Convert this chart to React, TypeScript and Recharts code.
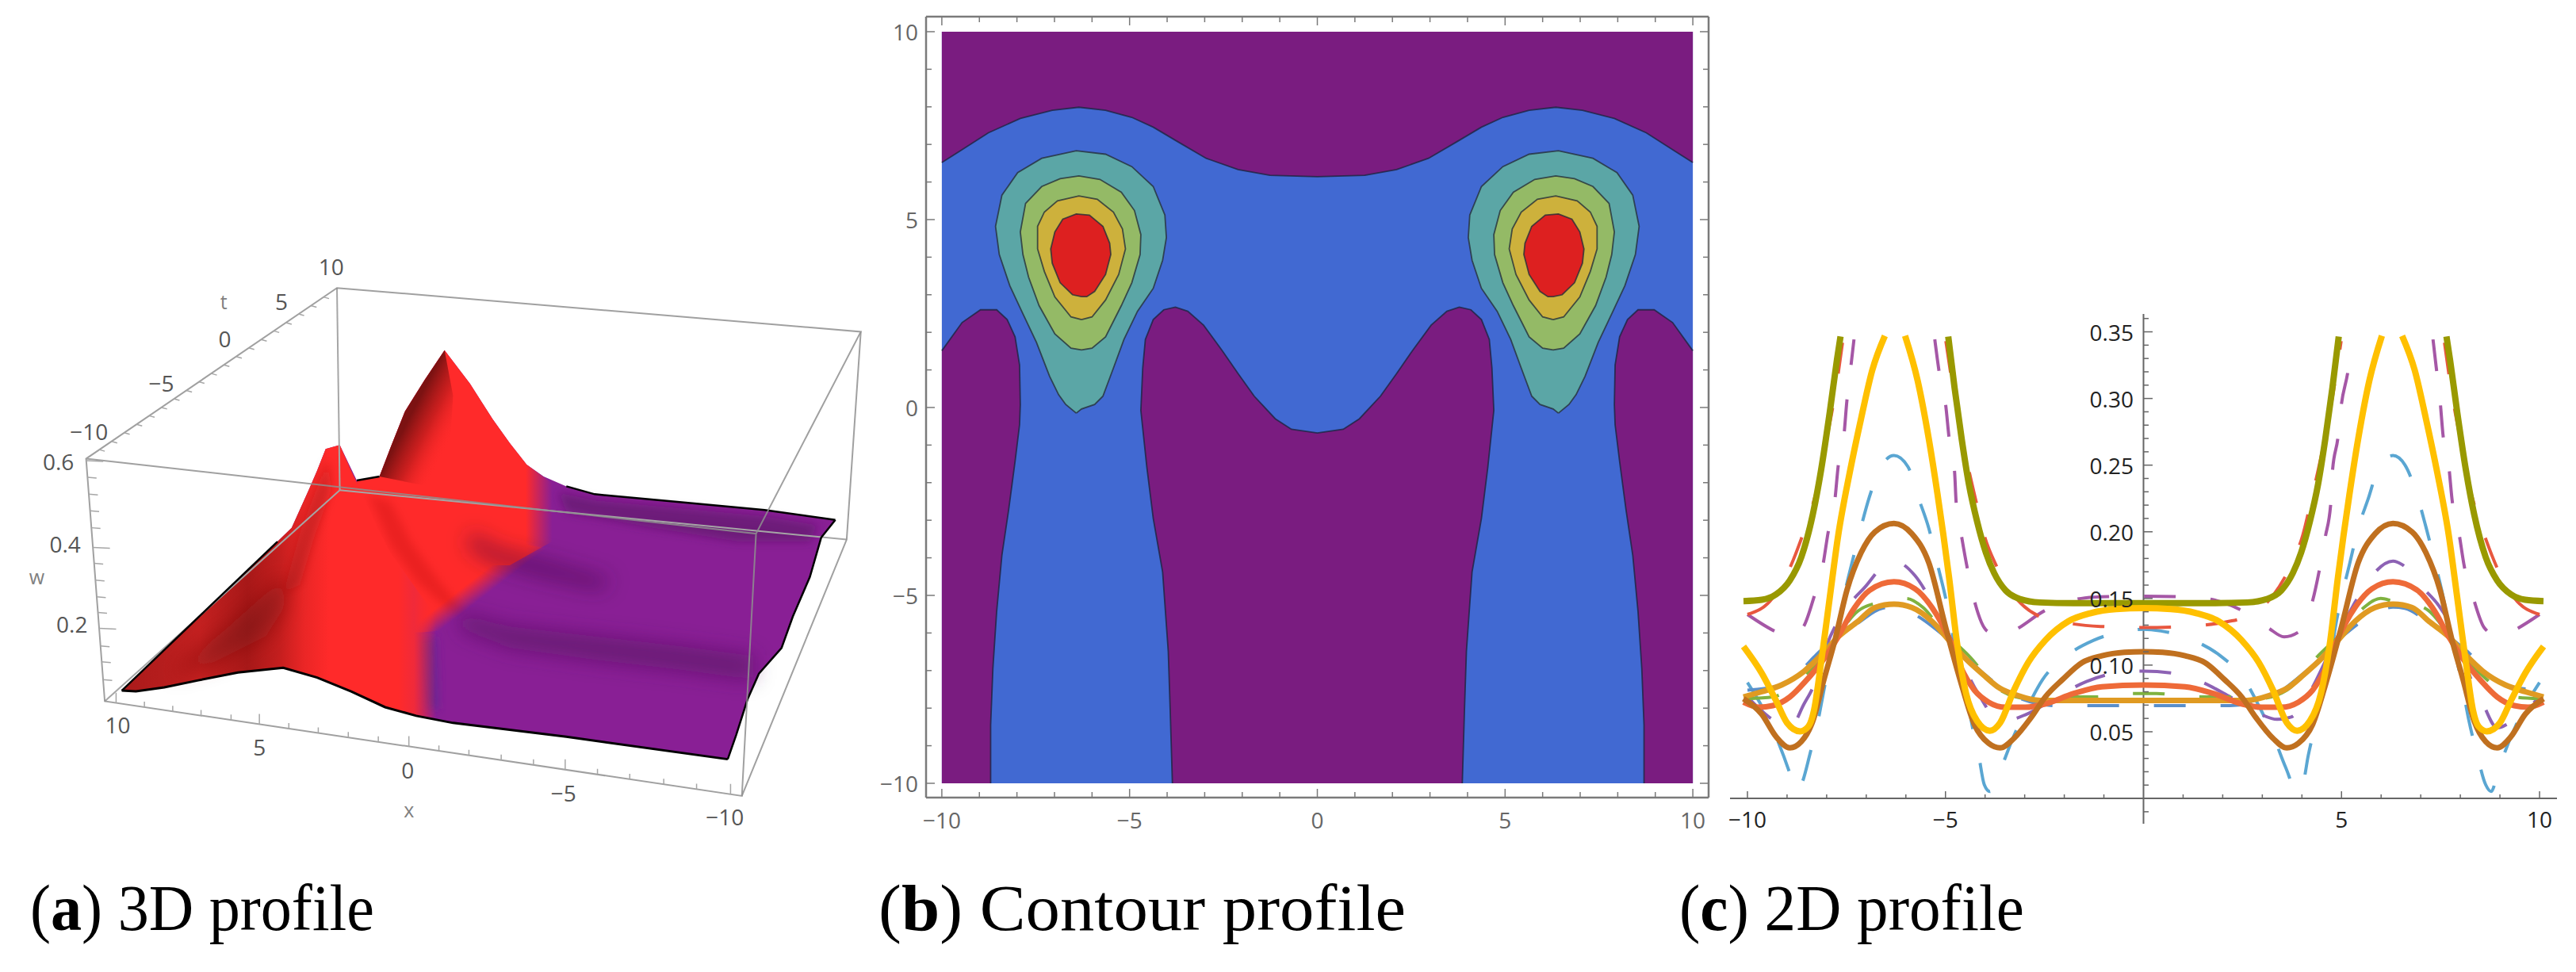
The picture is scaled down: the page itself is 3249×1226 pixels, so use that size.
import React from "react";
import { ComposedChart, XAxis, YAxis, Area, Line, Scatter, ReferenceLine } from "recharts";

type P = [number, number | null];
const rows = (p: P[]) => p.map(([x, y]) => ({ x, y }));
const mirrorX = (p: P[]): P[] => [...p].reverse().filter(([x]) => x !== 0).map(([x, y]) => [-x, y] as P);
const both = (p: P[]): P[] => [...p, ...mirrorX(p)];
const flipped = (p: P[]): P[] => p.map(([x, y]) => [-x, y] as P);

/* ---------- panel (c): 2D profile, read for x<=0, the plot is even in x ---------- */
const oliveCurve: P[] = [[-10.1,.148],[-9.64,.149],[-9.28,.153],[-8.93,.1635],[-8.64,.181],[-8.35,.213],[-8.14,.2464],[-7.92,.29],[-7.74,.329],[-7.65,.3465],[-6.3,null],[-4.93,.3465],[-4.77,.308],[-4.59,.2695],[-4.41,.236],[-4.2,.2076],[-3.98,.1844],[-3.77,.169],[-3.48,.156],[-3.12,.1496],[-2.62,.147],[-1.76,.1465],[0,.1465]];
const yellowCurve: P[] = [[-10.1,.114],[-9.64,.094],[-9.28,.0735],[-9,.0567],[-8.67,.0503],[-8.46,.054],[-8.32,.066],[-8.14,.102],[-7.92,.151],[-7.71,.197],[-7.42,.244],[-7.13,.285],[-6.85,.321],[-6.53,.347],[-6.3,null],[-6.02,.347],[-5.7,.313],[-5.42,.2695],[-5.2,.228],[-4.91,.166],[-4.7,.115],[-4.48,.0787],[-4.2,.058],[-3.88,.0508],[-3.62,.0567],[-3.27,.0812],[-2.91,.102],[-2.48,.1186],[-1.9,.1328],[-1.33,.139],[-.69,.142],[0,.1427]];
const brownCurve: P[] = [[-10.1,.0748],[-9.64,.0632],[-9.28,.0464],[-8.93,.0379],[-8.64,.0426],[-8.35,.058],[-8.07,.089],[-7.78,.12],[-7.49,.156],[-7.13,.1844],[-6.78,.2],[-6.3,.2063],[-5.85,.1986],[-5.42,.1767],[-4.99,.1277],[-4.63,.089],[-4.27,.0555],[-3.91,.0413],[-3.62,.0379],[-3.27,.0451],[-2.84,.0606],[-2.48,.0761],[-2.05,.089],[-1.55,.1019],[-1.05,.107],[-.48,.1096],[0,.1101]];
const orangeCurve: P[] = [[-10.1,.0722],[-9.71,.0684],[-9.36,.0696],[-8.93,.0761],[-8.5,.089],[-8.07,.1045],[-7.71,.1212],[-7.35,.1406],[-6.92,.156],[-6.3,.1625],[-5.77,.1573],[-5.34,.1432],[-4.91,.12],[-4.63,.0993],[-4.27,.0812],[-3.91,.0722],[-3.48,.0684],[-2.98,.0684],[-2.48,.0709],[-1.76,.0787],[-1.05,.0838],[0,.0851]];
const amberCurve: P[] = [[-10.1,.0761],[-9.64,.08],[-9.14,.0851],[-8.57,.0954],[-8.07,.1096],[-7.71,.1212],[-7.21,.1328],[-6.78,.1432],[-6.3,.1457],[-5.85,.1432],[-5.34,.1328],[-4.91,.1186],[-4.48,.1045],[-4.05,.0929],[-3.62,.0825],[-3.2,.0774],[-2.62,.0735],[-1.9,.0735],[-1.05,.0735],[0,.0735]];
const pinkDash: P[] = [[-10,.138],[-9.32,.1256],[-8.96,.1212],[-8.6,.1282],[-8.32,.151],[-8.1,.174],[-7.96,.2],[-7.79,.2244],[-7.71,.249],[-7.56,.2734],[-7.49,.298],[-7.39,.3237],[-7.31,.3443],[-6.3,null],[-5.27,.3443],[-5.16,.32],[-4.99,.294],[-4.91,.2708],[-4.77,.245],[-4.73,.2218],[-4.59,.196],[-4.45,.1728],[-4.27,.1483],[-3.95,.1256],[-3.55,.1212],[-3.16,.1277],[-2.51,.1406],[-1.48,.1504],[-.9,.1514],[0,.1517]];
const redDash: P[] = [[-10,.138],[-9.36,.1504],[-8.93,.1728],[-8.64,.1947],[-8.35,.2205],[-8.17,.2412],[-8,.2695],[-7.85,.2928],[-7.71,.3185],[-7.6,.3418],[-6.3,null],[-4.99,.343],[-4.84,.3134],[-4.66,.2824],[-4.41,.2463],[-4.23,.2231],[-4.02,.1973],[-3.73,.1754],[-3.27,.1522],[-2.69,.1375],[-1.9,.1315],[-1.08,.129],[0,.1282]];
const blueDash: P[] = [[-10,.0869],[-9.6,.067],[-9.21,.0413],[-8.96,.0214],[-8.78,.0052],[-8.64,.0103],[-8.42,.0335],[-8.21,.0593],[-8.07,.0812],[-7.89,.107],[-7.71,.1303],[-7.53,.156],[-7.35,.178],[-7.13,.2038],[-6.92,.2262],[-6.6,.2502],[-6.3,.2572],[-5.95,.2489],[-5.67,.2244],[-5.42,.2025],[-5.2,.1754],[-5.02,.1535],[-4.84,.1277],[-4.73,.1058],[-4.48,.0812],[-4.34,.0567],[-4.16,.0322],[-4.02,.0103],[-3.88,.0052],[-3.59,.0232],[-3.3,.0451],[-2.91,.0696],[-2.55,.089],[-1.94,.107],[-1.26,.1186],[-.44,.1256],[0,.1269]];
const violetDash: P[] = [[-10,.0761],[-9.28,.0575],[-8.93,.0529],[-8.57,.0709],[-8.32,.0851],[-8,.1148],[-7.49,.1432],[-7.03,.1586],[-6.53,.1754],[-6.3,.178],[-5.77,.1671],[-5.34,.147],[-4.84,.1186],[-4.2,.08],[-3.73,.0611],[-3.37,.0593],[-2.95,.0632],[-2.19,.0761],[-1.44,.0877],[-.69,.0941],[0,.0955]];
const greenDash: P[] = [[-10,.0748],[-9.36,.0761],[-8.53,.0929],[-8.07,.107],[-7.71,.1225],[-7.21,.1406],[-6.85,.1457],[-6.3,.148],[-5.99,.15],[-5.56,.143],[-5.13,.1277],[-4.41,.107],[-3.62,.0812],[-2.91,.0748],[-2.19,.0761],[-1.22,.0761],[-.33,.0787],[0,.0787]];
const steelDash: P[] = [[-10,.0812],[-9.14,.085],[-8.07,.113],[-7.21,.1316],[-6.6,.1426],[-6.3,.1435],[-5.85,.139],[-5,.121],[-4.05,.094],[-3.2,.076],[-2.19,.0696],[-1.05,.0696],[0,.0696]];
const dashedSeries: [P[], string][] = [[blueDash,"#5aa6d2"],[pinkDash,"#a557a6"],[redDash,"#e8573f"],[violetDash,"#8d62b4"],[greenDash,"#7fb23f"],[steelDash,"#5a8fca"]];
const solidSeries: [P[], string][] = [[amberCurve,"#e09a22"],[orangeCurve,"#ee6a38"],[brownCurve,"#c0701f"],[oliveCurve,"#999900"],[yellowCurve,"#ffc000"]];
const xTicksC = [-10,-9,-8,-7,-6,-5,-4,-3,-2,-1,1,2,3,4,5,6,7,8,9,10];
const yTicksC = [-.01,.01,.02,.03,.04,.05,.06,.07,.08,.09,.1,.11,.12,.13,.14,.15,.16,.17,.18,.19,.2,.21,.22,.23,.24,.25,.26,.27,.28,.29,.3,.31,.32,.33,.34,.35,.36];

/* ---------- panel (b): contour levels, read for x<=0 ---------- */
const tealDrop: P[] = [[-6.42,-.15],[-6.7,.08],[-6.89,.34],[-7.13,.83],[-7.48,1.73],[-7.84,2.49],[-8.19,3.24],[-8.47,4.07],[-8.57,4.82],[-8.4,5.65],[-7.98,6.25],[-7.34,6.63],[-6.42,6.83],[-5.64,6.74],[-4.94,6.41],[-4.37,5.88],[-4.06,5.12],[-4.02,4.52],[-4.12,3.92],[-4.37,3.17],[-4.79,2.56],[-5.15,1.81],[-5.43,1.05],[-5.71,.3],[-5.93,.08],[-6.28,-.04],[-6.42,-.15]];
const greenDrop: P[] = [[-6.28,1.53],[-6.56,1.58],[-6.99,1.96],[-7.41,2.71],[-7.69,3.47],[-7.84,4.07],[-7.91,4.67],[-7.77,5.43],[-7.34,5.88],[-6.85,6.09],[-6.35,6.16],[-5.79,6.07],[-5.22,5.73],[-4.87,5.24],[-4.7,4.6],[-4.72,4.07],[-4.94,3.32],[-5.22,2.71],[-5.64,1.88],[-6,1.58],[-6.28,1.53]];
const yellowDrop: P[] = [[-6.28,2.34],[-6.56,2.41],[-6.99,2.94],[-7.27,3.62],[-7.45,4.22],[-7.45,4.82],[-7.27,5.2],[-6.92,5.5],[-6.35,5.63],[-5.86,5.54],[-5.43,5.2],[-5.19,4.75],[-5.11,4.22],[-5.29,3.54],[-5.64,2.86],[-6,2.41],[-6.28,2.34]];
const redDrop: P[] = [[-6.28,2.95],[-6.52,3],[-6.85,3.32],[-7.06,3.84],[-7.1,4.22],[-6.99,4.67],[-6.78,5.01],[-6.42,5.15],[-6.07,5.12],[-5.71,4.82],[-5.53,4.37],[-5.5,4.07],[-5.64,3.54],[-5.93,3.09],[-6.14,2.95],[-6.28,2.95]];
const topEdge: P[] = [[-10,6.52],[-9.46,6.86],[-8.76,7.31],[-7.91,7.69],[-7.06,7.91],[-6.35,7.99],[-5.64,7.91],[-4.94,7.72],[-4.37,7.46],[-3.73,7.08],[-2.96,6.63],[-2.11,6.33],[-1.26,6.18],[0,6.14]];
const sideEdge: P[] = [[-10,1.51],[-9.46,2.26],[-8.97,2.6],[-8.54,2.6],[-8.26,2.34],[-8.05,1.88],[-7.93,1.13],[-7.91,.08],[-7.93,-.46],[-8.05,-1.44],[-8.22,-2.72],[-8.4,-3.93],[-8.54,-5.43],[-8.64,-6.94],[-8.7,-8.45],[-8.7,-10]];
const middleEdge: P[] = [[-3.86,-10],[-3.92,-8],[-3.97,-6.49],[-4.12,-4.38],[-4.37,-2.95],[-4.54,-1.59],[-4.7,-.08],[-4.65,1.05],[-4.58,1.81],[-4.37,2.34],[-4.09,2.6],[-3.78,2.67],[-3.45,2.56],[-3.03,2.19],[-2.53,1.51],[-2.11,.9],[-1.68,.3],[-1.12,-.3],[-.69,-.58],[0,-.68]];
const square: P[] = [[-10,-10],[10,-10],[10,10],[-10,10],[-10,-10]];
const ticksB = [-10,-9,-8,-7,-6,-5,-4,-3,-2,-1,0,1,2,3,4,5,6,7,8,9,10];
const dropLevels: [P[], string][] = [[tealDrop,"#5ba6a6"],[greenDrop,"#94ba66"],[yellowDrop,"#cdb13c"],[redDrop,"#dd2020"]];

/* ---------- panel (a): surface outlines in the projected plane ---------- */
const frontEdge: P[] = [[215,1148],[240,1150],[290,1140],[350,1122],[420,1102],[500,1090],[560,1115],[620,1150],[680,1190],[735,1212],[800,1230],[1000,1265],[1285,1322]];
const rightEdge: P[] = [[1285,1322],[1300,1260],[1320,1170],[1340,1105],[1380,1040],[1400,960],[1430,860],[1450,760],[1475,715]];
const backEdge: P[] = [[1475,715],[1350,690],[1200,670],[1050,650],[1000,630],[960,605]];
const ridgeEdge: P[] = [[960,605],[930,575],[900,520],[870,460],[830,370],[785,285],[750,360],[715,440],[690,530],[670,605],[630,615],[600,525],[575,535],[560,590],[545,640],[515,735],[490,770],[215,1148]];
const silhouette: P[] = [...frontEdge, ...rightEdge.slice(1), ...backEdge.slice(1), ...ridgeEdge.slice(1)];
const backPeak: P[] = [[630,615],[670,605],[690,530],[715,440],[750,360],[785,285],[830,370],[870,460],[900,520],[930,575],[975,622],[975,770],[900,830],[640,830],[630,615]];
const backShade: P[] = [[670,605],[690,530],[715,440],[750,360],[785,285],[800,400],[790,640],[670,605]];
const midRed: P[] = [[640,700],[975,790],[975,830],[830,990],[745,1000],[640,1000],[640,700]];
const frontPeak: P[] = [[215,1148],[240,1150],[290,1140],[350,1122],[420,1102],[500,1090],[560,1115],[620,1150],[680,1190],[735,1212],[770,1218],[770,960],[730,880],[690,800],[665,730],[640,650],[620,590],[600,525],[575,535],[560,590],[545,640],[515,735],[490,770],[215,1148]];
const shadeRed: P[] = [[300,1110],[400,990],[470,900],[500,850],[505,930],[470,1010],[380,1075],[300,1110]];
const shadeFlank: P[] = [[530,745],[555,650],[580,560],[585,640],[555,760],[530,880],[500,900],[530,745]];
const shadeRidge: P[] = [[650,650],[690,780],[735,870],[790,940],[820,950],[770,860],[725,770],[690,670],[650,650]];
const shadeBack: P[] = [[830,745],[880,785],[960,815],[1080,865],[1060,895],[950,860],[870,825],[825,785],[830,745]];
const shadeCrease: P[] = [[810,950],[900,985],[1050,1010],[1200,1035],[1330,1060],[1330,1120],[1200,1095],[1050,1070],[900,1040],[815,995],[810,950]];
const shadeTop: P[] = [[985,645],[1050,665],[1200,685],[1350,705],[1445,728],[1430,770],[1300,770],[1150,735],[1000,695],[985,645]];
const shadeBase: P[] = [[735,1020],[770,1010],[775,1195],[750,1195],[735,1020]];
const boxBack: P[][] = [[[595,127],[600,640]],[[185,1175],[600,640]],[[600,640],[1495,765]]];
const boxFront: P[][] = [[[152,560],[1335,750],[1520,238],[595,127],[152,560],[185,1175],[1310,1415],[1335,750]],[[1310,1415],[1495,765],[1520,238]]];
const xEdgeTicks = [205,255,305,355,408,458,510,562,615,668,722,775,828,885,942,998,1055,1112,1172,1230,1290];
const wEdgeTicks = [565,607,650,692,735,785,825,868,910,950,990,1035,1075,1120];
const tEdgeTicks = [[175,537],[197,516],[219,494],[241,473],[263,451],[285,430],[307,408],[329,387],[351,365],[373,344],[395,322],[417,301],[439,279],[461,258],[483,236],[505,215],[527,193],[549,172],[571,150]];
const labels3d = [
  { x: 208, y: 1235, t: "10" }, { x: 458, y: 1290, t: "5" }, { x: 720, y: 1348, t: "0" }, { x: 995, y: 1408, t: "\u22125" }, { x: 1280, y: 1468, t: "\u221210" },
  { x: 585, y: 72, t: "10" }, { x: 497, y: 160, t: "5" }, { x: 397, y: 255, t: "0" }, { x: 285, y: 368, t: "\u22125" }, { x: 157, y: 490, t: "\u221210" },
  { x: 103, y: 567, t: "0.6" }, { x: 115, y: 775, t: "0.4" }, { x: 127, y: 978, t: "0.2" },
];
const names3d = [{ x: 722, y: 1450, t: "x" }, { x: 395, y: 160, t: "t" }, { x: 65, y: 858, t: "w" }];

const FONT = "'Open Sans', sans-serif";
const U = 1568;
const W3 = 1120, H3 = 780;
const gx = (v: number) => (v * W3) / U;
const gy = (v: number) => (v * H3) / U;

const tickSegments = (): any[] => {
  const out: any[] = [];
  const seg = (a: number, b: number, c: number, d: number) => out.push({ x: a, y: b }, { x: c, y: d }, { x: c, y: null });
  xEdgeTicks.forEach((x, i) => {
    const y = 1175 + (x - 185) * 0.2133;
    seg(x, y, x, y - (i % 5 === 0 ? 26 : 14));
  });
  wEdgeTicks.forEach((y, i) => {
    const x = 152 + ((y - 560) * 33) / 615;
    seg(x, y, x + (i % 5 === 0 ? 30 : 16), y + 2);
  });
  tEdgeTicks.forEach(([x, y]) => seg(x, y, x + 10, y + 4));
  return out;
};

const poly = (p: P[], fill: string, key: string, extra: any = {}) => (
  <Area key={key} data={rows(p)} dataKey="y" type="linear" fill={fill} fillOpacity={1} stroke="none" dot={false} activeDot={false} isAnimationActive={false} legendType="none" {...extra} />
);
const path = (p: P[], stroke: string, w: number, key: string, extra: any = {}) => (
  <Line key={key} data={rows(p)} dataKey="y" type="linear" stroke={stroke} strokeWidth={w} dot={false} activeDot={false} isAnimationActive={false} legendType="none" {...extra} />
);

const Label3d = (color: string, size: number) => (props: any) => (
  <text x={props.cx} y={props.cy} textAnchor="middle" dominantBaseline="central" fill={color} fontFamily={FONT} fontSize={size}>
    {props.payload.t}
  </text>
);

function Panel3D() {
  return (
    <div style={{ position: "absolute", left: 0, top: 300 }}>
      <ComposedChart width={W3} height={H3} margin={{ top: 0, right: 0, bottom: 0, left: 0 }}>
        <defs>
          <filter id="soft" x="-30%" y="-40%" width="160%" height="180%"><feGaussianBlur stdDeviation="6" /></filter>
          <filter id="wide" x="-30%" y="-60%" width="160%" height="220%"><feGaussianBlur stdDeviation="13" /></filter>
          <linearGradient id="gFront" gradientUnits="userSpaceOnUse" x1={gx(215)} y1={0} x2={gx(770)} y2={0}>
            <stop offset="0" stopColor="#a81a1a" />
            <stop offset="0.25" stopColor="#c42020" />
            <stop offset="0.4" stopColor="#a81818" />
            <stop offset="0.5" stopColor="#c41e1e" />
            <stop offset="0.58" stopColor="#ea2626" />
            <stop offset="0.66" stopColor="#ff2a2a" />
            <stop offset="0.88" stopColor="#ff2a2a" />
            <stop offset="0.93" stopColor="#f02a3a" />
            <stop offset="1" stopColor="#ff2a2a" stopOpacity="0" />
          </linearGradient>
          <linearGradient id="gBack" gradientUnits="userSpaceOnUse" x1={gx(640)} y1={0} x2={gx(975)} y2={0}>
            <stop offset="0" stopColor="#ff2a2a" />
            <stop offset="0.86" stopColor="#ff2a2a" />
            <stop offset="1" stopColor="#ff2a2a" stopOpacity="0" />
          </linearGradient>
          <linearGradient id="gRidge" gradientUnits="userSpaceOnUse" x1={gx(670)} y1={gy(605)} x2={gx(670) + 53} y2={gy(605) + 27}>
            <stop offset="0" stopColor="#7c1212" />
            <stop offset="0.45" stopColor="#c01c1c" stopOpacity="0.8" />
            <stop offset="1" stopColor="#ff2a2a" stopOpacity="0" />
          </linearGradient>
          <linearGradient id="gMid" gradientUnits="userSpaceOnUse" x1={gx(850)} y1={gy(850)} x2={gx(871.5)} y2={gy(890)}>
            <stop offset="0" stopColor="#ff2a2a" />
            <stop offset="1" stopColor="#ff2a2a" stopOpacity="0" />
          </linearGradient>
        </defs>
        <XAxis dataKey="x" type="number" domain={[0, U]} hide allowDataOverflow />
        <YAxis dataKey="y" type="number" domain={[0, U]} reversed hide allowDataOverflow />
        {boxBack.map((b, i) => path(b, "#a6a6a6", 2, "bb" + i))}
        {poly(silhouette, "#891f95", "sil")}
        {poly(shadeTop, "#4a1058", "s4", { fillOpacity: 0.45, filter: "url(#soft)" })}
        {poly(shadeCrease, "#4a1058", "s3", { fillOpacity: 0.55, filter: "url(#wide)" })}
        {poly(shadeBase, "#4a2a90", "s5", { fillOpacity: 0.5, filter: "url(#soft)" })}
        {poly(midRed, "url(#gMid)", "rm")}
        {poly(backPeak, "url(#gBack)", "rb")}
        {poly(backShade, "url(#gRidge)", "rbs")}
        {poly(shadeRidge, "#a01818", "s6", { fillOpacity: 0.22, filter: "url(#soft)" })}
        {poly(shadeBack, "#3a0a40", "s2", { fillOpacity: 0.45, filter: "url(#wide)" })}
        {path([[1000,630],[1050,650],[1200,670],[1350,690],[1475,715]], "#000", 2.5, "edgeBack")}
        {path([[670,605],[630,615]], "#000", 2.5, "edgeMid")}
        {poly(frontPeak, "url(#gFront)", "rf")}
        {poly(shadeRed, "#701010", "s1", { fillOpacity: 0.5, filter: "url(#wide)" })}
        {poly(shadeFlank, "#901414", "s7", { fillOpacity: 0.35, filter: "url(#soft)" })}
        {path(frontEdge, "#000", 3, "edgeFront")}
        {path(rightEdge, "#000", 2.5, "edgeRight")}
        {path([[490,770],[215,1148]], "#000", 2.5, "edgeLeft")}
        {boxFront.map((b, i) => path(b, "#8f8f8f", 2, "bf" + i, { strokeOpacity: 0.85 }))}
        <Line data={tickSegments()} dataKey="y" type="linear" stroke="#a6a6a6" strokeWidth={1.5} dot={false} activeDot={false} isAnimationActive={false} legendType="none" />
        <Scatter data={labels3d} dataKey="y" isAnimationActive={false} legendType="none" shape={Label3d("#555", 28)} />
        <Scatter data={names3d} dataKey="y" isAnimationActive={false} legendType="none" shape={Label3d("#808080", 25)} />
      </ComposedChart>
    </div>
  );
}

const fmtMinus = (v: number) => (v < 0 ? "\u2212" + Math.abs(v) : String(v));
const INK = "#7a7a7a";
const isMajor = (v: number) => v % 5 === 0;

const TickBottom = (p: any) => (
  <g>
    <line x1={p.x} x2={p.x} y1={985 + 21} y2={985 + 21 - (isMajor(p.payload.value) ? 11 : 7)} stroke={INK} strokeWidth={1.5} />
    {isMajor(p.payload.value) && <text x={p.x} y={1034} textAnchor="middle" dominantBaseline="central" fill="#666" fontFamily={FONT} fontSize={28}>{fmtMinus(p.payload.value)}</text>}
  </g>
);
const TickTop = (p: any) => <line x1={p.x} x2={p.x} y1={21} y2={21 + (isMajor(p.payload.value) ? 11 : 7)} stroke={INK} strokeWidth={1.5} />;
const TickLeft = (p: any) => (
  <g>
    <line x1={78} x2={78 + (isMajor(p.payload.value) ? 11 : 7)} y1={p.y} y2={p.y} stroke={INK} strokeWidth={1.5} />
    {isMajor(p.payload.value) && <text x={68} y={p.y} textAnchor="end" dominantBaseline="central" fill="#666" fontFamily={FONT} fontSize={28}>{fmtMinus(p.payload.value)}</text>}
  </g>
);
const TickRight = (p: any) => <line x1={1065} x2={1065 - (isMajor(p.payload.value) ? 11 : 7)} y1={p.y} y2={p.y} stroke={INK} strokeWidth={1.5} />;

const axisLineB = { stroke: INK, strokeWidth: 2.5 };

function PanelContour() {
  const outline = "#1d2440";
  const purple = "#7a1c80";
  const top: P[] = [...both(topEdge), [10, 10], [-10, 10], [-10, 6.52]];
  const sideL: P[] = [...sideEdge, [-10, -10], [-10, 1.51]];
  const mid: P[] = [...both(middleEdge), [-3.86, -10]];
  return (
    <div style={{ position: "absolute", left: 1090, top: 0 }}>
      <ComposedChart width={1080} height={1070} margin={{ top: 20, right: 14, bottom: 63, left: 77 }}>
        {poly(square, "#4169d2", "base")}
        {poly(top, purple, "top")}
        {poly(sideL, purple, "sideL")}
        {poly(flipped(sideL), purple, "sideR")}
        {poly(mid, purple, "mid")}
        {path(both(topEdge), outline, 1.8, "topLine", { strokeOpacity: 0.8 })}
        {path(sideEdge, outline, 1.8, "sideLineL", { strokeOpacity: 0.8 })}
        {path(flipped(sideEdge), outline, 1.8, "sideLineR", { strokeOpacity: 0.8 })}
        {path(both(middleEdge), outline, 1.8, "midLine", { strokeOpacity: 0.8 })}
        {dropLevels.map(([d, c], i) => poly(d, c, "dl" + i, { stroke: "#26303a", strokeWidth: 1.8, strokeOpacity: 0.8 }))}
        {dropLevels.map(([d, c], i) => poly(flipped(d), c, "dr" + i, { stroke: "#26303a", strokeWidth: 1.8, strokeOpacity: 0.8 }))}
        <XAxis dataKey="x" type="number" domain={[-10.42, 10.42]} ticks={ticksB} interval={0} height={1} allowDataOverflow axisLine={axisLineB} tickLine={false} tick={TickBottom} />
        <XAxis xAxisId="t" orientation="top" dataKey="x" type="number" domain={[-10.42, 10.42]} ticks={ticksB} interval={0} height={1} allowDataOverflow axisLine={axisLineB} tickLine={false} tick={TickTop} />
        <YAxis dataKey="y" type="number" domain={[-10.38, 10.4]} ticks={ticksB} interval={0} width={1} allowDataOverflow axisLine={axisLineB} tickLine={false} tick={TickLeft} />
        <YAxis yAxisId="r" orientation="right" dataKey="y" type="number" domain={[-10.38, 10.4]} ticks={ticksB} interval={0} width={1} allowDataOverflow axisLine={axisLineB} tickLine={false} tick={TickRight} />
      </ComposedChart>
    </div>
  );
}

const X0C = 2703 - 2160;
const Y0C = 1007 - 380;
const TickXC = (p: any) => {
  const v = p.payload.value;
  return (
    <g>
      <line x1={p.x} x2={p.x} y1={Y0C} y2={Y0C - (isMajor(v) ? 9 : 5)} stroke="#666" strokeWidth={1.5} />
      {isMajor(v) && <text x={p.x} y={Y0C + 26} textAnchor="middle" dominantBaseline="central" fill="#222" fontFamily={FONT} fontSize={28}>{fmtMinus(v)}</text>}
    </g>
  );
};
const TickYC = (p: any) => {
  const v = Math.round(p.payload.value * 100);
  const major = v % 5 === 0;
  return (
    <g>
      <line x1={X0C} x2={X0C + (major ? 12 : 7)} y1={p.y} y2={p.y} stroke="#666" strokeWidth={1.5} />
      {major && <text x={X0C - 12} y={p.y} textAnchor="end" dominantBaseline="central" fill="#222" fontFamily={FONT} fontSize={28}>{(v / 100).toFixed(2)}</text>}
    </g>
  );
};

function Panel2D() {
  return (
    <div style={{ position: "absolute", left: 2160, top: 380 }}>
      <ComposedChart width={1089} height={700} margin={{ top: 16, right: 24, bottom: 40, left: 21 }}>
        <ReferenceLine y={0} stroke="#666" strokeWidth={2} />
        <ReferenceLine x={0} stroke="#666" strokeWidth={2} />
        {dashedSeries.map(([d, c], i) => path(both(d), c, 4, "dash" + i, { strokeDasharray: "40 44", type: "monotone" }))}
        {solidSeries.map(([d, c], i) => path(both(d), c, i >= 3 ? 8 : 7, "solid" + i, { type: "monotone" }))}
        <XAxis dataKey="x" type="number" domain={[-10.44, 10.44]} ticks={xTicksC} interval={0} height={1} allowDataOverflow axisLine={false} tickLine={false} tick={TickXC} />
        <YAxis dataKey="y" type="number" domain={[-0.019, 0.3634]} ticks={yTicksC} interval={0} width={1} allowDataOverflow axisLine={false} tickLine={false} tick={TickYC} />
      </ComposedChart>
    </div>
  );
}

const captions = [
  { x: 38, letter: "a", rest: " 3D profile", w: 434 },
  { x: 1108, letter: "b", rest: " Contour profile", w: 665 },
  { x: 2118, letter: "c", rest: " 2D profile", w: 435 },
];

export default function App() {
  return (
    <div style={{ position: "absolute", left: 0, top: 0, width: 3249, height: 1226, background: "#fff", overflow: "hidden" }}>
      <Panel3D />
      <PanelContour />
      <Panel2D />
      <svg width={3249} height={1226} style={{ position: "absolute", left: 0, top: 0, pointerEvents: "none" }}>
        {captions.map((c) => (
          <text key={c.letter} x={c.x} y={1173} textLength={c.w} lengthAdjust="spacingAndGlyphs" fontFamily="'Liberation Serif', serif" fontSize={82} fill="#000">
            (<tspan fontWeight="bold">{c.letter}</tspan>){c.rest}
          </text>
        ))}
      </svg>
    </div>
  );
}
